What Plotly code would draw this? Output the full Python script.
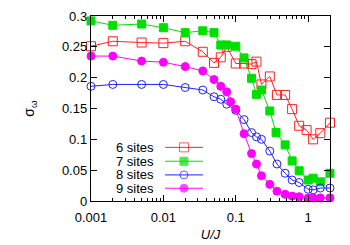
import plotly.graph_objects as go
import math

# ---- data ----
x6 = [0.001, 0.002, 0.005, 0.01, 0.02, 0.035, 0.05, 0.062, 0.075, 0.1, 0.13, 0.165, 0.193, 0.226,
      0.295, 0.37, 0.48, 0.6, 0.75, 0.95, 1.17, 1.47, 2.0]
y6 = [0.251, 0.259, 0.257, 0.256, 0.259, 0.242, 0.224, 0.233, 0.250, 0.223, 0.223, 0.222, 0.226, 0.189,
      0.202, 0.172, 0.172, 0.149, 0.122, 0.115, 0.100, 0.110, 0.127]

x7 = [0.001, 0.002, 0.005, 0.01, 0.02, 0.035, 0.05, 0.062, 0.075, 0.1, 0.13, 0.165, 0.193, 0.226,
      0.295, 0.36, 0.48, 0.6, 0.75, 1.0, 1.17, 1.47, 2.0]
y7 = [0.292, 0.285, 0.287, 0.281, 0.273, 0.276, 0.273, 0.253, 0.253, 0.251, 0.232, 0.199, 0.173, 0.180,
      0.146, 0.111, 0.091, 0.065, 0.049, 0.034, 0.037, 0.031, 0.045]

x8 = [0.001, 0.002, 0.005, 0.01, 0.02, 0.035, 0.05, 0.062, 0.075, 0.1, 0.13, 0.165, 0.193, 0.226,
      0.295, 0.37, 0.48, 0.6, 0.75, 1.0, 1.17, 1.47, 2.0]
y8 = [0.186, 0.189, 0.189, 0.189, 0.184, 0.180, 0.169, 0.165, 0.157, 0.147, 0.132, 0.111, 0.104, 0.100,
      0.081, 0.060, 0.045, 0.034, 0.030, 0.019, 0.018, 0.021, 0.021]

x9 = [0.001, 0.002, 0.005, 0.01, 0.02, 0.035, 0.05, 0.062, 0.075, 0.085, 0.1, 0.13, 0.165, 0.193, 0.226,
      0.295, 0.37, 0.48, 0.6, 0.75, 1.0, 1.17, 1.47, 2.0]
y9 = [0.235, 0.235, 0.227, 0.225, 0.218, 0.211, 0.197, 0.186, 0.177, 0.161, 0.149, 0.109, 0.077, 0.060, 0.041,
      0.027, 0.016, 0.011, 0.008, 0.007, 0.005, 0.005, 0.005, 0.005]

series_names = ["6 sites", "7 sites", "8 sites", "9 sites"]
xtick_vals = [0.001, 0.01, 0.1, 1]
xtick_text = ["0.001", "0.01", "0.1", "1"]
ytick_vals = [0, 0.05, 0.1, 0.15, 0.2, 0.25, 0.3]
ytick_text = ["0", "0.05", "0.1", "0.15", "0.2", "0.25", "0.3"]

# ---- styles ----
colors = ["#ff2020", "#00e000", "#2020ff", "#ff00ff"]
symbols = ["square-open", "square", "circle-open", "circle"]
msize = [9, 8, 8, 8]
FONT = "Liberation Sans, Arial, Helvetica, sans-serif"

fig = go.Figure()
data = [(x6, y6), (x7, y7), (x8, y8), (x9, y9)]
for (xs, ys), name, c, s, ms in zip(data, series_names, colors, symbols, msize):
    fig.add_trace(go.Scatter(
        x=xs, y=ys, mode="lines+markers", name=name, cliponaxis=False,
        line=dict(color=c, width=1),
        marker=dict(symbol=s, size=ms, color=c, line=dict(color=c, width=1)),
        showlegend=False))

# ---- gnuplot-style legend (text, then sample) on an overlay axis ----
rows = [0.290, 0.215, 0.141, 0.069]
for name, c, s, ms, r in zip(series_names, colors, symbols, msize, rows):
    fig.add_trace(go.Scatter(
        x=[0.310, 0.389, 0.469], y=[r, r, r], xaxis="x2", yaxis="y2",
        mode="lines+markers", cliponaxis=False, showlegend=False, hoverinfo="skip",
        line=dict(color=c, width=1),
        marker=dict(symbol=s, size=[0, ms, 0], color=c, line=dict(color=c, width=1))))
    fig.add_annotation(x=0.271, y=r, xref="paper", yref="paper", text=name,
                       showarrow=False, xanchor="right", yanchor="middle",
                       font=dict(family=FONT, size=13, color="black"))

axis_common = dict(showline=True, linecolor="black", linewidth=1.2, mirror="ticks",
                   ticks="inside", tickcolor="black", ticklen=6, tickwidth=1,
                   showgrid=False, zeroline=False, automargin=False,
                   tickfont=dict(family=FONT, size=13, color="black"))

fig.update_layout(
    template="none",
    width=350, height=245,
    margin=dict(l=91, r=20, t=16, b=44),
    paper_bgcolor="white", plot_bgcolor="white",
    font=dict(family=FONT, size=13, color="black"),
    xaxis=dict(type="log", range=[-3, math.log10(2.0)],
               tickvals=xtick_vals, ticktext=xtick_text, ticklabelstandoff=4,
               minor=dict(ticks="inside", ticklen=3, tickcolor="black", dtick="D1", showgrid=False),
               title=dict(text="<i>U/J</i>", standoff=6, font=dict(family=FONT, size=13)),
               **axis_common),
    yaxis=dict(range=[0, 0.3], tickvals=ytick_vals, ticktext=ytick_text,
               title=dict(text="σ<sub>ω</sub>", standoff=24, font=dict(family=FONT, size=14)),
               **axis_common),
    xaxis2=dict(overlaying="x", range=[0, 1], visible=False),
    yaxis2=dict(overlaying="y", range=[0, 1], visible=False),
)

# remove the browser's default 8px body margin so the figure sits at the page origin
fig.write_html("out.html", config={"displayModeBar": False, "staticPlot": True},
               post_script="document.body.style.margin='0';document.body.style.overflow='hidden';")
